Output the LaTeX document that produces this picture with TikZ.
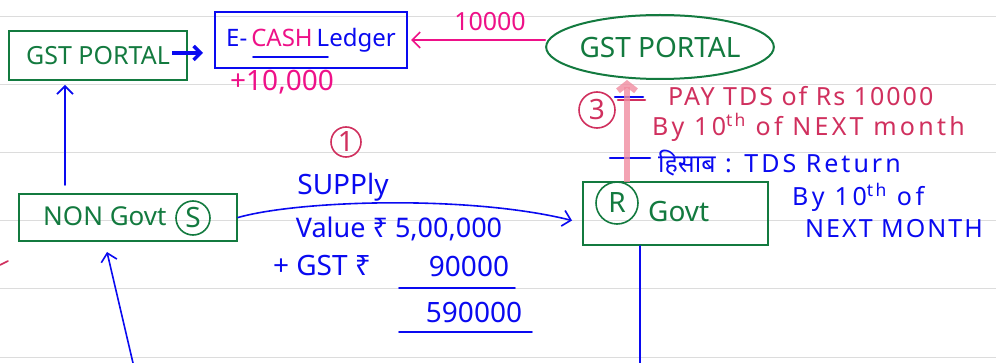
\documentclass[tikz,border=0pt]{standalone}
\usepackage{fontspec}
\setmainfont{Noto Sans}
\newfontfamily\hindi[Script=Devanagari]{Noto Sans}
\usepackage{xcolor}
\definecolor{inkgreen}{HTML}{137A3F}
\definecolor{inkblue}{HTML}{0A0AF0}
\definecolor{inkpink}{HTML}{EE1188}
\definecolor{inkrose}{HTML}{D0305E}
\definecolor{inkfade}{HTML}{F08CA0}
\definecolor{ruling}{HTML}{DCDCDC}
\usetikzlibrary{arrows.meta,positioning,shapes.geometric}

\begin{document}
\begin{tikzpicture}[x=1pt,y=-1pt,
  hand/.style={inner sep=0pt,font=\fontsize{#1}{#1}\selectfont},hand/.default=24,
  wide/.style={inner sep=0pt,font=\fontsize{25}{25}\selectfont\addfontfeature{LetterSpace=#1}},
  greenbox/.style={draw=inkgreen,line width=2pt,text=inkgreen,inner sep=0pt},
  ring/.style={circle,draw,line width=1.6pt,inner sep=0pt,font=\fontsize{28}{28}\selectfont},
  pen/.style={line width=1.6pt,line cap=round},
  barb/.style={-{Straight Barb[length=8pt,width=16pt]}}]
\useasboundingbox (0,0) rectangle (996,363);
% page ruling
\foreach \y in {17,85,153,221,289,357}
  \draw[ruling,line width=1pt] (0,\y) -- (996,\y);

% boxes
\node[greenbox,hand=25,minimum width=178pt,minimum height=49pt] (gstbox) at (98,55.5) {GST PORTAL};
\node[draw=inkblue,line width=2pt,text=inkblue,hand=24,minimum width=192pt,minimum height=56pt]
  (ecash) at (311,40) {E-\,\textcolor{inkpink}{CASH}\,Ledger};
\draw[inkblue,pen] (253,57) -- (328,57);
\node[ellipse,greenbox,hand=28,minimum width=226pt,minimum height=64pt] (portal) at (660,47) {GST PORTAL};
\node[greenbox,minimum width=218pt,minimum height=47pt] (nongovt) at (128,217.5) {};
\node[hand=26,text=inkgreen,anchor=west] (nglabel) at (43,216) {NON Govt};
\node[ring,draw=inkgreen,text=inkgreen,minimum size=34pt] (sletter) at (193,218) {S};
\node[greenbox,minimum width=185pt,minimum height=63pt] (govt) at (675.5,213.5) {};
\node[ring,draw=inkgreen,text=inkgreen,minimum size=42pt] (rletter) at (617,203) {R};
\node[hand=28,text=inkgreen,anchor=west] (govtlabel) at (648,212) {Govt};

% amounts
\node[hand=28,text=inkpink] (plusamt) at (282,82) {+10,000};
\node[hand=25,text=inkpink] (portalamt) at (490,22) {10000};
\node[ring,draw=inkrose,text=inkrose,minimum size=30pt] (stepone) at (346,142) {1};
\node[hand=28,text=inkblue] (supply) at (343,187) {SUPPly};
\node[hand=27,text=inkblue] (value) at (399,229) {Value ₹ 5,00,000};
\node[hand=28,text=inkblue] (gstlbl) at (322,266) {+ GST ₹};
\node[hand=28,text=inkblue] (gstamt) at (469,266) {90000};
\node[hand=28,text=inkblue] (total) at (474,312) {590000};
\draw[inkblue,pen] (399,288) -- (515,288);
\draw[inkblue,pen] (399,332) -- (532,332);

% TDS notes
\node[ring,draw=inkrose,text=inkrose,minimum size=36pt] (stepthree) at (597,110) {3};
\node[wide=8,text=inkrose,anchor=west] (paytds) at (668,96) {PAY TDS of Rs 10000};
\node[wide=13,text=inkrose,anchor=west] (bydate) at (652,127) {By 10\textsuperscript{th} of NEXT month};
\node[wide=12,text=inkblue,anchor=west] (tdsreturn) at (658,163) {{\hindi हिसाब} : TDS Return};
\node[wide=14,text=inkblue,anchor=west] (returnby) at (792,197) {By 10\textsuperscript{th} of};
\node[wide=8,text=inkblue,anchor=west] (returnmonth) at (805,229) {NEXT MONTH};
\draw[inkblue,pen,line width=2.5pt] (615,97) -- (643,97);
\draw[inkrose,pen,line width=2.5pt] (618,100) -- (645,100);
\draw[inkblue,pen,line width=2.5pt] (610,158) -- (650,158);

% connectors
\coordinate (gsttail) at (172,53);
\coordinate (nvtop) at (65,185);
\coordinate (nvtip) at (65,85);
\coordinate (leftfoot) at (133,363);
\coordinate (leftTip) at (107,252);
\coordinate (tdsfoot) at (627,182);
\coordinate (govtfoot) at (640,363);
\draw[inkblue,line width=3.5pt,shorten >=11pt,-{Straight Barb[length=7pt,width=14pt]}]
  (gsttail) -- (gsttail -| ecash.west);
\draw[inkpink,pen,barb] (ecash.east -| portal.west) -- ([xshift=3pt]ecash.east);
\draw[inkblue,pen,barb] (nvtop) -- (nvtip);
\draw[inkblue,pen,barb] (leftfoot) -- (leftTip);
\draw[inkblue,pen,barb] (nongovt.east) .. controls (300,200) and (470,195) .. ([xshift=-10pt,yshift=-7pt]govt.west);
\draw[inkfade,opacity=0.8,line width=6pt,-{Straight Barb[length=7pt,width=18pt]}] (tdsfoot) -- (tdsfoot |- portal.south);
\draw[inkblue,pen] (govtfoot |- govt.south) -- (govtfoot);
\draw[inkrose,pen] (0,265) -- (8,261);
\end{tikzpicture}
\end{document}
